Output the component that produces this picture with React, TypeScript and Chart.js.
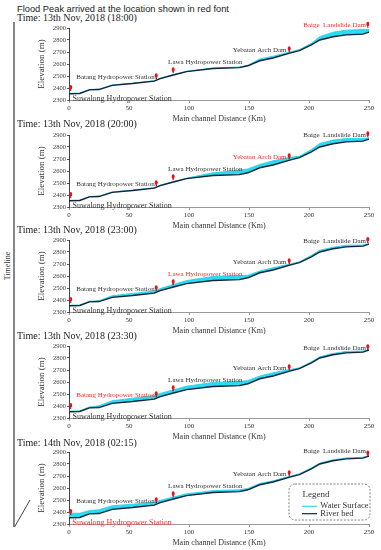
import React, { useEffect, useRef } from 'react';
import { Chart, registerables } from 'chart.js';

Chart.register(...registerables);

// ---------- data ----------
const distanceKm = [0, 9, 17, 25, 36, 53, 71, 76, 87, 98, 120, 142, 149, 159, 170, 184, 192, 202, 209, 220, 231, 245, 250];
const riverBed = [2352, 2354, 2384, 2387, 2422, 2437, 2457, 2478, 2508, 2536, 2563, 2570, 2585, 2627, 2650, 2690, 2712, 2760, 2800, 2827, 2843, 2849, 2866];

const water1800 = [2356, 2358, 2388, 2391, 2426, 2441, 2461, 2482, 2512, 2540, 2567, 2575, 2590, 2642, 2665, 2700, 2720, 2772, 2828, 2865, 2882, 2888, 2890];
const water2000 = [2356, 2358, 2388, 2391, 2426, 2441, 2461, 2482, 2512, 2541, 2585, 2607, 2617, 2655, 2685, 2715, 2722, 2780, 2830, 2858, 2870, 2870, 2876];
const water2300 = [2357, 2359, 2390, 2394, 2436, 2455, 2475, 2495, 2530, 2562, 2596, 2604, 2606, 2642, 2668, 2700, 2718, 2772, 2815, 2840, 2856, 2858, 2870];
const water2330 = [2358, 2360, 2392, 2402, 2444, 2465, 2487, 2505, 2535, 2565, 2596, 2605, 2612, 2650, 2677, 2704, 2718, 2768, 2810, 2838, 2855, 2858, 2870];
const water0215 = [2390, 2390, 2412, 2418, 2452, 2465, 2482, 2497, 2525, 2552, 2578, 2585, 2596, 2638, 2660, 2698, 2718, 2768, 2808, 2835, 2851, 2856, 2872];
const waterSeries = [water1800, water2000, water2300, water2330, water0215];

const panelTimes = [
  'Time: 13th Nov, 2018 (18:00)',
  'Time: 13th Nov, 2018 (20:00)',
  'Time: 13th Nov, 2018 (23:00)',
  'Time: 13th Nov, 2018 (23:30)',
  'Time: 14th Nov, 2018 (02:15)',
];
const peakStationIndex = [4, 3, 2, 1, 0];

const stationNames = [
  'Suwalong Hydropower Station',
  'Batang Hydropower Station',
  'Lawa Hydropower Station',
  'Yebatan Arch Dam',
  'Baige  Landslide Dam',
];
const stationKm = [1.4, 72.7, 86.8, 183.5, 249];
const markerElev = [2398, 2496, 2545, 2720];
const baigeMarkerElev = [2925, 2903, 2897, 2888, 2885];
const labelKm = [3, 71.5, 82.6, 181.3, 247.5];
const labelElev = [2313, 2494, 2612, 2714];
const baigeLabelElev = [2926, 2897, 2893, 2880, 2911];
const labelAlign: CanvasTextAlign[] = ['left', 'right', 'left', 'right', 'right'];

const xTickValues = [0, 50, 100, 150, 200, 250];
const yTickValues = [2300, 2400, 2500, 2600, 2700, 2800, 2900];

// ---------- layout ----------
const panelTops = [28, 135, 240, 346, 452];
const timeLabelCenters = [18.3, 124.3, 230, 336, 443.3];
const SERIF = '"Liberation Serif", "Times New Roman", serif';

function drawPin(ctx: CanvasRenderingContext2D, x: number, y: number) {
  ctx.fillStyle = '#e3141c';
  ctx.beginPath();
  ctx.ellipse(x, y - 1, 1.5, 2.3, 0, 0, Math.PI * 2);
  ctx.fill();
  ctx.beginPath();
  ctx.moveTo(x - 1.1, y + 0.2);
  ctx.lineTo(x + 1.1, y + 0.2);
  ctx.lineTo(x, y + 2);
  ctx.closePath();
  ctx.fill();
  ctx.fillStyle = '#6a0a0a';
  ctx.fillRect(x - 0.6, y + 1.6, 1.2, 1);
}

const stationPlugin = {
  id: 'stations',
  afterDatasetsDraw(chart: any, _args: any, opts: any) {
    const { ctx, scales } = chart;
    const xs = scales.x;
    const ys = scales.y;
    const p = opts.panel as number;
    ctx.save();
    stationNames.forEach((name, k) => {
      const mElev = k === 4 ? baigeMarkerElev[p] : markerElev[k];
      const lElev = k === 4 ? baigeLabelElev[p] : labelElev[k];
      drawPin(ctx, xs.getPixelForValue(stationKm[k]), ys.getPixelForValue(mElev));
      ctx.font = `${k === 0 ? 8 : 7}px ${SERIF}`;
      ctx.fillStyle = k === peakStationIndex[p] ? '#ff2b2b' : '#333333';
      ctx.textAlign = labelAlign[k];
      ctx.textBaseline = 'middle';
      ctx.fillText(name, xs.getPixelForValue(labelKm[k]), ys.getPixelForValue(lElev));
    });
    ctx.restore();
  },
};

function makeConfig(index: number): any {
  const water = waterSeries[index];
  return {
    type: 'line',
    data: {
      datasets: [
        {
          label: 'River bed',
          data: distanceKm.map((d, i) => ({ x: d, y: riverBed[i] })),
          borderColor: '#15223a',
          borderWidth: 1.4,
          pointRadius: 0,
          fill: false,
          tension: 0,
        },
        {
          label: 'Water Surface',
          data: distanceKm.map((d, i) => ({ x: d, y: water[i] })),
          borderColor: '#1ccfe8',
          borderWidth: 0.8,
          backgroundColor: '#2adcf2',
          pointRadius: 0,
          fill: '-1',
          tension: 0,
        },
      ],
    },
    options: {
      responsive: false,
      animation: false,
      devicePixelRatio: 1,
      events: [],
      layout: { padding: { top: 10, right: 12, left: 0, bottom: 0 } },
      plugins: {
        legend: { display: false },
        tooltip: { enabled: false },
        stations: { panel: index },
      },
      scales: {
        x: {
          type: 'linear',
          min: 0,
          max: 250,
          afterBuildTicks: (s: any) => {
            s.ticks = xTickValues.map((v) => ({ value: v }));
          },
          afterFit: (s: any) => {
            s.height = 28;
            s.paddingLeft = 0;
            s.paddingRight = 0;
          },
          ticks: {
            font: { family: SERIF, size: 7 },
            color: '#333',
            padding: 1,
            maxRotation: 0,
            autoSkip: false,
            callback: (v: any) => String(v),
          },
          grid: { drawOnChartArea: false, drawTicks: true, tickLength: 3, color: '#9a9a9a' },
          border: { display: true, color: '#9a9a9a', width: 1 },
          title: {
            display: true,
            text: 'Main channel Distance (Km)',
            font: { family: SERIF, size: 8 },
            color: '#333',
            padding: { top: 0, bottom: 4.7 },
          },
        },
        y: {
          type: 'linear',
          min: 2300,
          max: 2900,
          afterBuildTicks: (s: any) => {
            s.ticks = yTickValues.map((v) => ({ value: v }));
          },
          afterFit: (s: any) => {
            s.width = 69;
            s.paddingTop = 0;
            s.paddingBottom = 0;
          },
          ticks: {
            font: { family: SERIF, size: 6.5 },
            color: '#444',
            padding: 1,
            callback: (v: any) => String(v),
          },
          grid: { drawOnChartArea: false, drawTicks: true, tickLength: 2, color: '#555' },
          border: { display: true, color: '#444', width: 1 },
          title: {
            display: true,
            text: 'Elevation (m)',
            font: { family: SERIF, size: 9 },
            color: '#333',
            padding: { top: 36.6, bottom: 0 },
          },
        },
      },
    },
    plugins: [stationPlugin],
  };
}

function Panel({ index }: { index: number }) {
  const ref = useRef<HTMLCanvasElement>(null);
  useEffect(() => {
    const chart = new Chart(ref.current as HTMLCanvasElement, makeConfig(index));
    return () => chart.destroy();
  }, [index]);
  const top = panelTops[index];
  return (
    <>
      <div
        style={{
          position: 'absolute',
          left: 17,
          top: timeLabelCenters[index] - 6,
          fontFamily: SERIF,
          fontSize: '10px',
          lineHeight: '12px',
          color: '#222',
          whiteSpace: 'nowrap',
        }}
      >
        {panelTimes[index]}
      </div>
      <div style={{ position: 'absolute', left: 0, top: top - 10, width: 381, height: 110 }}>
        <canvas ref={ref} width={381} height={110} style={{ width: 381, height: 110, display: 'block' }} />
      </div>
    </>
  );
}

export default function App() {
  return (
    <div
      style={{
        position: 'absolute',
        left: 0,
        top: 0,
        width: 381,
        height: 550,
        background: '#fff',
        overflow: 'hidden',
      }}
    >
      <div
        style={{
          position: 'absolute',
          left: 17,
          top: 2.5,
          fontFamily: '"Liberation Sans", Arial, sans-serif',
          fontSize: '9.3px',
          lineHeight: '12px',
          color: '#222',
          whiteSpace: 'nowrap',
        }}
      >
        Flood Peak arrived at the location shown in red font
      </div>
      <svg style={{ position: 'absolute', left: 0, top: 0 }} width={381} height={550}>
        <line x1={14} y1={22} x2={14} y2={527} stroke="#444" strokeWidth={1.3} />
        <line x1={14.5} y1={527} x2={30} y2={500} stroke="#444" strokeWidth={1} />
      </svg>
      <div
        style={{
          position: 'absolute',
          left: -12,
          top: 260,
          width: 40,
          height: 12,
          textAlign: 'center',
          transform: 'rotate(-90deg)',
          fontFamily: SERIF,
          fontSize: '8px',
          lineHeight: '12px',
          color: '#333',
        }}
      >
        Timeline
      </div>
      {panelTimes.map((_, i) => (
        <Panel key={i} index={i} />
      ))}
      <svg style={{ position: 'absolute', left: 0, top: 0 }} width={381} height={550}>
        <rect x={289} y={484} width={81} height={36} rx={6} ry={6} fill="#fff" stroke="#666" strokeWidth={0.8} strokeDasharray="2,1.5" />
        <text x={302.5} y={497} fontFamily={SERIF} fontSize={9} fill="#333">Legend</text>
        <line x1={302} y1={506.3} x2={317} y2={506.3} stroke="#2adcf2" strokeWidth={1.2} />
        <text x={320.3} y={508.3} fontFamily={SERIF} fontSize={8.5} fill="#333">Water Surface</text>
        <line x1={302} y1={513.7} x2={317} y2={513.7} stroke="#15223a" strokeWidth={1.2} />
        <text x={320.3} y={515.7} fontFamily={SERIF} fontSize={8.5} fill="#333">River bed</text>
      </svg>
    </div>
  );
}
